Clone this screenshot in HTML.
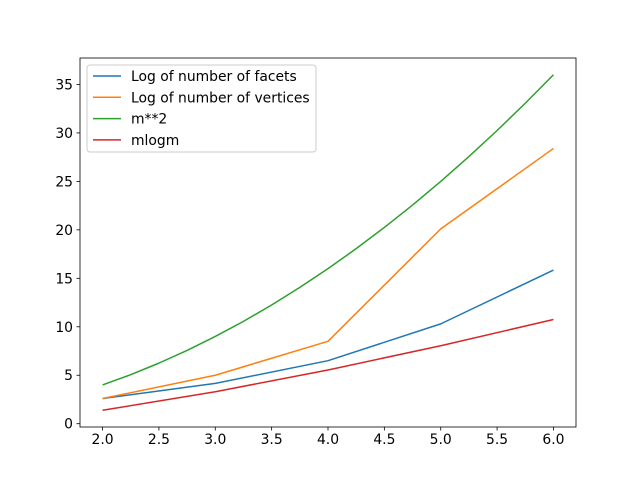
<!DOCTYPE html>
<html><head><meta charset="utf-8"><style>
body{margin:0;background:#fff}
svg{display:block;font-family:"DejaVu Sans","Liberation Sans",sans-serif}
</style></head><body>
<svg id="chart" width="640" height="480">
<rect width="640" height="480" fill="#fff"/>
<g id="plot"></g>
</svg>
<script>
const xFacets=[2,3,4,5,6];
const yFacets=[2.6,4.16,6.5,10.3,15.85];
const xVertices=[2,3,4,5,6];
const yVertices=[2.6,5.0,8.5,20.1,28.4];
const xSquare=[2,2.25,2.5,2.75,3,3.25,3.5,3.75,4,4.25,4.5,4.75,5,5.25,5.5,5.75,6];
const ySquare=[4,5.06,6.25,7.56,9,10.56,12.25,14.06,16,18.06,20.25,22.56,25,27.56,30.25,33.06,36];
const xMlogm=[2,3,4,5,6];
const yMlogm=[1.386,3.296,5.545,8.047,10.75];
const xTicks=[2.0,2.5,3.0,3.5,4.0,4.5,5.0,5.5,6.0];
const yTicks=[0,5,10,15,20,25,30,35];
const labels=["Log of number of facets","Log of number of vertices","m**2","mlogm"];
const colors=["#1f77b4","#ff7f0e","#2ca02c","#d62728"];

const L=80,R=576,T=58,B=427;
const xmin=1.8,xmax=6.2,ymin=-0.34,ymax=37.73;
const sx=v=>L+(v-xmin)/(xmax-xmin)*(R-L);
const sy=v=>B-(v-ymin)/(ymax-ymin)*(B-T);
const NS="http://www.w3.org/2000/svg";
const g=document.getElementById('plot');
function mk(tag,attrs,parent){const e=document.createElementNS(NS,tag);for(const k in attrs)e.setAttribute(k,attrs[k]);(parent||g).appendChild(e);return e;}

const series=[[xFacets,yFacets],[xVertices,yVertices],[xSquare,ySquare],[xMlogm,yMlogm]];
series.forEach((s,i)=>{
  const p=mk('polyline',{points:s[0].map((x,j)=>sx(x)+','+sy(s[1][j])).join(' '),fill:'none',stroke:colors[i],'stroke-width':1.5,'stroke-linejoin':'round'});
  
  
});
const frame=mk('rect',{x:L,y:T,width:R-L,height:B-T,fill:'none',stroke:'#000','stroke-width':0.8});


xTicks.forEach(t=>{
  const x=sx(t);
  mk('line',{x1:x,x2:x,y1:B,y2:B+3.5,stroke:'#000','stroke-width':0.8});
  const tx=mk('text',{x:x,y:B+17,'text-anchor':'middle','font-size':'13.9px',fill:'#000'});
  tx.textContent=t.toFixed(1);
  
  
});
yTicks.forEach(t=>{
  const y=sy(t);
  mk('line',{x1:L,x2:L-3.5,y1:y,y2:y,stroke:'#000','stroke-width':0.8});
  const tx=mk('text',{x:L-7,y:y+5,'text-anchor':'end','font-size':'13.9px',fill:'#000'});
  tx.textContent=t;
  
  
});
const lg=mk('g',{});


mk('rect',{x:87,y:65,width:229,height:87,rx:3,fill:'#fff','fill-opacity':0.8,stroke:'#ccc','stroke-width':1},lg);
labels.forEach((lab,i)=>{
  const y=76+i*21.3;
  mk('line',{x1:93,x2:121,y1:y,y2:y,stroke:colors[i],'stroke-width':1.5},lg);
  const tx=mk('text',{x:131,y:y+5,'font-size':'13.9px',fill:'#000'},lg);
  tx.textContent=lab;
  
  
});
</script>
</body></html>
